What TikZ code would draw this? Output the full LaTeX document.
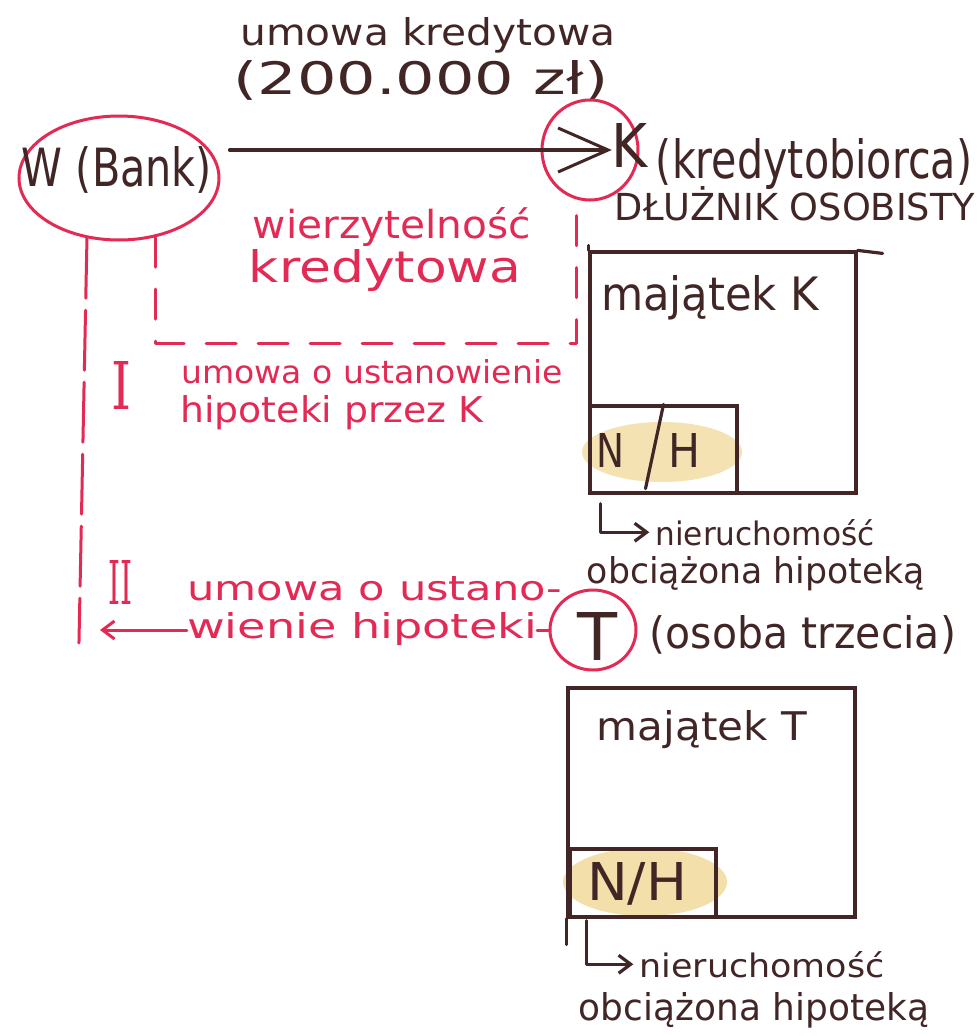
\documentclass[tikz,border=0pt]{standalone}
\usepackage{fontspec}
\setmainfont{DejaVu Sans}
\newfontfamily\numfont{DejaVu Serif}
\usepackage{graphicx}
\usetikzlibrary{shapes.geometric,arrows.meta,calc}
\definecolor{inkred}{RGB}{226,42,84}
\definecolor{ink}{RGB}{66,38,38}
\definecolor{hl}{RGB}{232,192,86}
\newcommand{\fitwh}[3]{\resizebox{#1}{#2}{#3}}
\begin{document}
\begin{tikzpicture}[x=1pt,y=-1pt,
  lbl/.style={inner sep=0pt, text=ink, anchor=base},
  rlbl/.style={inner sep=0pt, text=inkred, anchor=base},
  inkline/.style={draw=ink, line width=3.2pt, line cap=round, line join=round},
  redline/.style={draw=inkred, line width=3pt, line cap=round, line join=round},
  reddash/.style={redline, dash pattern=on 30pt off 22pt},
  redlong/.style={redline, dash pattern=on 60pt off 12pt},
  ring/.style={ellipse, draw=inkred, line width=3pt, inner sep=0pt},
  box/.style={rectangle, draw=ink, line width=3.2pt, inner sep=0pt},
  bigarrow/.style={-{Straight Barb[length=50pt,width=44pt,line width=3pt]}},
  smallarrow/.style={-{Straight Barb[length=12pt,width=18pt]}},
]
\useasboundingbox (0,0) rectangle (979,1036);
\fill[white] (0,0) rectangle (979,1036);

% highlighter marks
\fill[hl, opacity=0.45] (662,452) ellipse [x radius=80, y radius=30];
\fill[hl, opacity=0.5] (645,882) ellipse [x radius=82, y radius=34];

% top label
\node[lbl] (uk) at (428,45) {\fitwh{375pt}{28pt}{umowa kredytowa}};
\node[lbl] (kw) at (421,94) {\fitwh{375pt}{34pt}{(200.000 zł)}};

% W (Bank)
\node[ring, minimum width=200pt, minimum height=124pt] (W) at (119,178) {};
\node[lbl] (Wt) at (117,186) {\fitwh{190pt}{40pt}{W (Bank)}};

% K
\node[ring, minimum width=96pt, minimum height=100pt] (Kring) at (590,150) {};
\node[lbl] (Kt) at (630,167) {\fitwh{36pt}{44pt}{K}};
\node[lbl] (Kd) at (814,178) {\fitwh{316pt}{40pt}{(kredytobiorca)}};
\node[lbl] (Ko) at (795,220) {\fitwh{360pt}{34pt}{DŁUŻNIK OSOBISTY}};

% credit agreement arrow
\coordinate (a1) at ([xshift=9pt,yshift=28pt]W.east);
\draw[inkline, bigarrow] (a1) -- (a1 -| Kt.west);

% claim
\node[rlbl] (wz) at (392,238) {\fitwh{278pt}{31pt}{wierzytelność}};
\node[rlbl] (kr) at (385,282) {\fitwh{272pt}{33pt}{kredytowa}};
\coordinate (dy) at (0,343);
\draw[reddash] (W.-58) -- (W.-58 |- dy) -- (Kring.-105 |- dy) -- (Kring.-105);

% box K
\node[box, minimum width=266pt, minimum height=241pt] (boxK) at (723,372.5) {};
\draw[inkline] (boxK.north east) -- ++(25,3);
\draw[inkline] (boxK.north west) -- ++(0,-5);
\node[lbl] (mK) at (710,310) {\fitwh{218pt}{35pt}{majątek K}};
\node[box, minimum width=147pt, minimum height=87pt] (NHK) at (663.5,449.5) {};
\draw[inkline] (NHK.north) -- ([xshift=-18pt,yshift=6pt]NHK.south);
\node[lbl] (NK) at (610,467) {\fitwh{28pt}{34pt}{N}};
\node[lbl] (HK) at (684,467) {\fitwh{32pt}{34pt}{H}};
\node[lbl] (nierK) at (765,545) {\fitwh{219pt}{26pt}{nieruchomość}};
\node[lbl] (obK) at (756,583) {\fitwh{338pt}{27pt}{obciążona hipoteką}};
\draw[inkline, smallarrow, shorten >=6pt] ([xshift=12pt,yshift=-9pt]NHK.south west) |- (nierK.west);

% contract I
\node[inner sep=0pt, text=inkred] (I) at (122,385) {\fitwh{20pt}{48pt}{\numfont I}};
\node[rlbl] (u1) at (372,383) {\fitwh{381pt}{24pt}{umowa o ustanowienie}};
\node[rlbl] (u1b) at (332,422) {\fitwh{303pt}{27pt}{hipoteki przez K}};

% contract II
\node[inner sep=0pt, text=inkred] (II) at (120,582) {\fitwh{24pt}{44pt}{\numfont II}};
\node[rlbl] (u2) at (375,600) {\fitwh{375pt}{24pt}{umowa o ustano-}};
\node[rlbl] (u2b) at (362,638) {\fitwh{350pt}{26pt}{wienie hipoteki}};

% T
\node[ring, minimum width=86pt, minimum height=80pt] (Tring) at (593,630) {};
\node[lbl] (Tt) at (598,660) {\fitwh{40pt}{48pt}{T}};
\node[lbl] (To) at (803,648) {\fitwh{306pt}{33pt}{(osoba trzecia)}};

% left line from W and arrow from T
\coordinate (ybot) at (0,643);
\coordinate (iiend) at (100,630);
\draw[redlong] (W.-118) -- ([xshift=-8pt]W.-118 |- ybot);
\draw[redline] (Tring.west) -- (Tring.west -| u2b.east);
\draw[redline, smallarrow] (Tring.west -| u2b.west) -- (Tring.west -| iiend);

% box T
\node[box, minimum width=287pt, minimum height=229pt] (boxT) at (711.5,802.5) {};
\draw[inkline] (boxT.south west) -- ++(0,26);
\node[lbl] (mT) at (702,740) {\fitwh{210pt}{30pt}{majątek T}};
\node[box, minimum width=146pt, minimum height=68pt] (NHT) at (643,883) {};
\node[lbl] (NHt) at (637,900) {\fitwh{100pt}{38pt}{N/H}};
\node[lbl] (nierT) at (762,977) {\fitwh{245pt}{26pt}{nieruchomość}};
\node[lbl] (obT) at (754,1020) {\fitwh{350pt}{28pt}{obciążona hipoteką}};
\draw[inkline, smallarrow, shorten >=6pt] ([xshift=18pt,yshift=-2pt]NHT.south west) |- (nierT.west);
\end{tikzpicture}
\end{document}
